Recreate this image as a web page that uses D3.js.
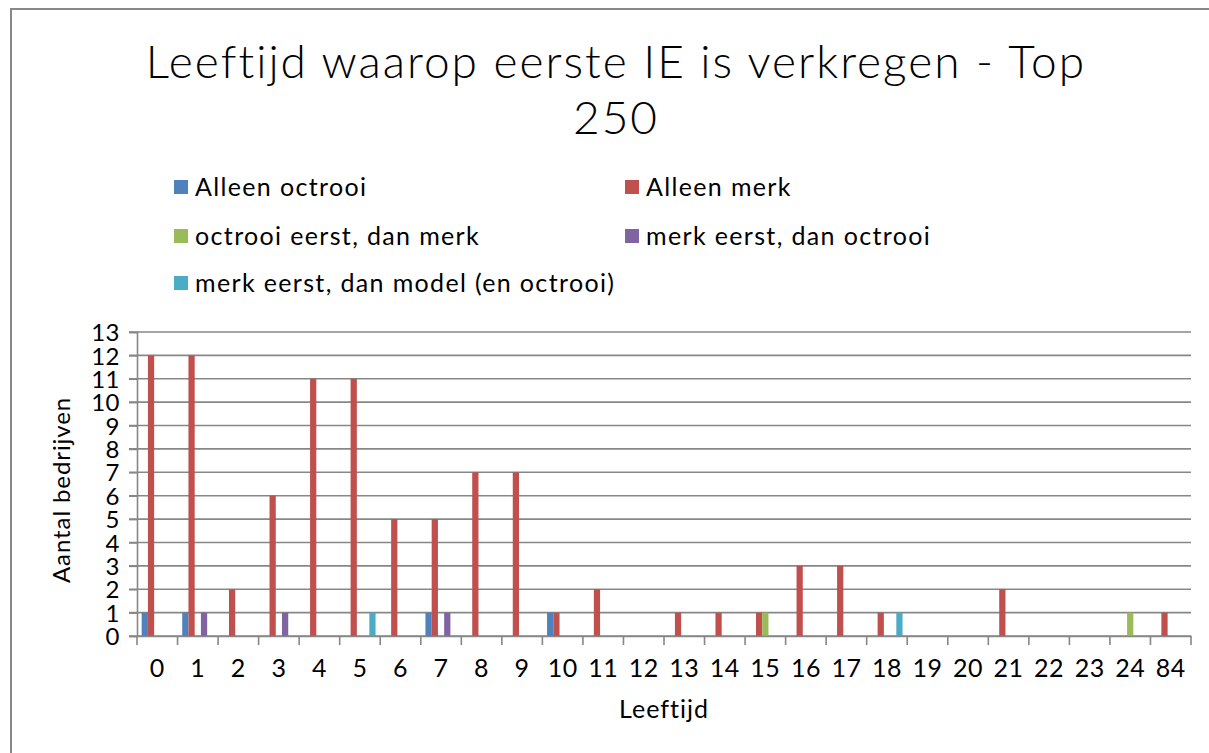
<!DOCTYPE html>
<html>
<head>
<meta charset="utf-8">
<script src="https://cdn.jsdelivr.net/npm/d3@7"></script>
<style>
  body { margin: 0; background: #fff; }
  text { font-family: Lato, "Open Sans", sans-serif; fill: #000; }
</style>
</head>
<body>
<div class="chart"></div>
<script>
const leeftijd = ['0','1','2','3','4','5','6','7','8','9','10','11','12','13','14','15','16','17','18','19','20','21','22','23','24','84'];
const seriesNames = ['Alleen octrooi', 'Alleen merk', 'octrooi eerst, dan merk', 'merk eerst, dan octrooi', 'merk eerst, dan model (en octrooi)'];
const colors = ['#4F81BD', '#C0504D', '#9BBB59', '#8064A2', '#4BACC6'];

const alleenOctrooi   = [1,1,0,0,0,0,0,1,0,0,1,0,0,0,0,0,0,0,0,0,0,0,0,0,0,0];
const alleenMerk      = [12,12,2,6,11,11,5,5,7,7,1,2,0,1,1,1,3,3,1,0,0,2,0,0,0,1];
const octrooiDanMerk  = [0,0,0,0,0,0,0,0,0,0,0,0,0,0,0,1,0,0,0,0,0,0,0,0,1,0];
const merkDanOctrooi  = [0,1,0,1,0,0,0,1,0,0,0,0,0,0,0,0,0,0,0,0,0,0,0,0,0,0];
const merkDanModel    = [0,0,0,0,0,1,0,0,0,0,0,0,0,0,0,0,0,0,1,0,0,0,0,0,0,0];
const yTicks = d3.range(0, 14);

const allSeries = [alleenOctrooi, alleenMerk, octrooiDanMerk, merkDanOctrooi, merkDanModel];

const w = 1209, h = 753;
const padLeft = 137, padRight = 1191, padTop = 332, padBottom = 636;

const svg = d3.select('div.chart').append('svg')
  .attr('width', w).attr('height', h);

// chart frame
svg.append('rect')
  .attr('x', 11).attr('y', 9)
  .attr('width', 1230).attr('height', 800)
  .attr('fill', 'none').attr('stroke', '#888').attr('stroke-width', 2);

const xScale = d3.scaleBand().domain(leeftijd).range([padLeft, padRight]);
const xSub = d3.scaleBand().domain(seriesNames).range([0, xScale.bandwidth()]).paddingOuter(0.75);
const yScale = d3.scaleLinear().domain([0, 13]).range([padBottom, padTop]);

// gridlines
svg.append('g').selectAll('line')
  .data(yTicks)
  .enter().append('line')
  .attr('x1', padLeft - 8).attr('x2', padRight)
  .attr('y1', d => yScale(d)).attr('y2', d => yScale(d))
  .attr('stroke', '#878787').attr('stroke-width', 1.6);

// bars
seriesNames.forEach((name, si) => {
  svg.append('g').selectAll('rect')
    .data(allSeries[si].map((v, i) => ({cat: leeftijd[i], v: v})).filter(d => d.v > 0))
    .enter().append('rect')
    .attr('fill', colors[si])
    .attr('x', d => xScale(d.cat) + xSub(name))
    .attr('width', xSub.bandwidth())
    .attr('y', d => yScale(d.v))
    .attr('height', d => yScale(0) - yScale(d.v));
});

// y axis
const yAxis = d3.axisLeft(yScale).tickValues(yTicks).tickSize(8).tickPadding(9);
const gy = svg.append('g')
  .attr('transform', 'translate(' + padLeft + ',0)')
  .call(yAxis);
gy.selectAll('path, line').attr('stroke', '#878787').attr('stroke-width', 1.6);
gy.selectAll('text').style('font-size', '24px').style('letter-spacing', '0.5px').attr('dy', '0.36em');

// x axis
const xAxis = d3.axisBottom(xScale).tickSize(0).tickPadding(23);
const gx = svg.append('g')
  .attr('transform', 'translate(0,' + padBottom + ')')
  .call(xAxis);
gx.select('.domain').attr('stroke', '#878787').attr('stroke-width', 1.6);
gx.selectAll('text').style('font-size', '25px').style('letter-spacing', '0.5px');
svg.append('g').selectAll('line')
  .data(leeftijd.map(c => xScale(c)).concat([padRight]))
  .enter().append('line')
  .attr('x1', d => d).attr('x2', d => d)
  .attr('y1', padBottom).attr('y2', padBottom + 9)
  .attr('stroke', '#878787').attr('stroke-width', 1.6);

// axis titles
svg.append('text')
  .attr('x', 664).attr('y', 718)
  .attr('text-anchor', 'middle')
  .style('font-size', '25px').style('letter-spacing', '1px')
  .text('Leeftijd');
svg.append('text')
  .attr('transform', 'translate(70,490) rotate(-90)')
  .attr('text-anchor', 'middle')
  .style('font-size', '24px').style('letter-spacing', '0.9px')
  .text('Aantal bedrijven');

// title
svg.append('text')
  .attr('x', 616).attr('y', 78)
  .attr('text-anchor', 'middle')
  .style('font-size', '46px').style('font-weight', 300).style('letter-spacing', '2px')
  .text('Leeftijd waarop eerste IE is verkregen - Top');
svg.append('text')
  .attr('x', 616).attr('y', 134)
  .attr('text-anchor', 'middle')
  .style('font-size', '46px').style('font-weight', 300).style('letter-spacing', '2px')
  .text('250');

// legend
const legendPos = [[174, 187], [625, 187], [174, 236], [625, 236], [174, 283]];
const lg = svg.append('g').selectAll('g')
  .data(seriesNames)
  .enter().append('g')
  .attr('transform', (d, i) => 'translate(' + legendPos[i][0] + ',' + legendPos[i][1] + ')');
lg.append('rect')
  .attr('x', 0).attr('y', -7).attr('width', 14).attr('height', 14)
  .attr('fill', (d, i) => colors[i]);
lg.append('text')
  .attr('x', 21).attr('y', 0).attr('dy', '0.35em')
  .style('font-size', '25px').style('letter-spacing', '1.35px')
  .text(d => d);
</script>
</body>
</html>
